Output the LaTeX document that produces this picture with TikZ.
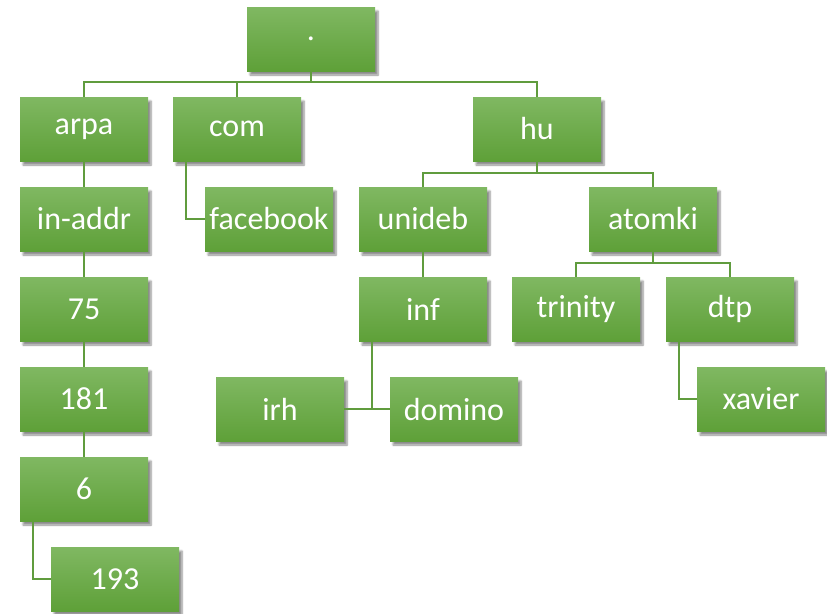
\documentclass[tikz,border=0pt]{standalone}
\usepackage{fontspec}
\setmainfont{Carlito}
\usepackage{xcolor}
\usetikzlibrary{shadows.blur}

\definecolor{boxtop}{RGB}{128,184,98}
\definecolor{boxbot}{RGB}{94,160,56}
\definecolor{linkgreen}{RGB}{96,156,62}

\tikzset{
  dnsbox/.style={rectangle, minimum width=128pt, minimum height=64pt, inner sep=0pt,
    top color=boxtop, bottom color=boxbot, draw=none, text=white,
    font=\fontsize{32}{34}\selectfont,
    blur shadow={shadow xshift=3pt, shadow yshift=-4pt, shadow blur steps=6, shadow opacity=45}},
  link/.style={draw=linkgreen, line width=2.2pt}
}

\begin{document}
\begin{tikzpicture}[x=1pt,y=1pt,yscale=-1,xscale=1]
\useasboundingbox (0,0) rectangle (827,613);

% root
\node[dnsbox] (root) at (311,39) {.};

% first level
\node[dnsbox] (arpa) at (84,129) {arpa};
\node[dnsbox] (com) at (237,129) {com};
\node[dnsbox] (hu) at (537,129) {hu};

% second level
\node[dnsbox] (inaddr) at (84,219) {in-addr};
\node[dnsbox] (facebook) at (269,219) {facebook};
\node[dnsbox] (unideb) at (423,219) {unideb};
\node[dnsbox] (atomki) at (653,219) {atomki};

% third level
\node[dnsbox] (n75) at (84,309) {75};
\node[dnsbox] (inf) at (423,309) {inf};
\node[dnsbox] (trinity) at (576,309) {trinity};
\node[dnsbox] (dtp) at (730,309) {dtp};

% fourth level
\node[dnsbox] (n181) at (84,399) {181};
\node[dnsbox] (irh) at (280,409) {irh};
\node[dnsbox] (domino) at (454,409) {domino};
\node[dnsbox] (xavier) at (761,399) {xavier};

% the rest of the arpa chain
\node[dnsbox] (n6) at (84,489) {6};
\node[dnsbox] (n193) at (115,579) {193};

% connectors
\draw[link] (root.south) -- ++(0,11) -| (arpa.north);
\draw[link] (root.south) -- ++(0,11) -| (com.north);
\draw[link] (root.south) -- ++(0,11) -| (hu.north);

\draw[link] (arpa) -- (inaddr);
\draw[link] (inaddr) -- (n75);
\draw[link] (n75) -- (n181);
\draw[link] (n181) -- (n6);
\draw[link] (n6.south west) ++(13,0) |- (n193.west);

\draw[link] (com.south west) ++(13,0) |- (facebook.west);

\draw[link] (hu.south) -- ++(0,12) -| (unideb.north);
\draw[link] (hu.south) -- ++(0,12) -| (atomki.north);

\draw[link] (unideb) -- (inf);
\draw[link] (inf.south west) ++(13,0) |- (domino.west);
\draw[link] (irh.east) -- (domino.west);

\draw[link] (atomki.south) -- ++(0,12) -| (trinity.north);
\draw[link] (atomki.south) -- ++(0,12) -| (dtp.north);
\draw[link] (dtp.south west) ++(13,0) |- (xavier.west);

\end{tikzpicture}
\end{document}
